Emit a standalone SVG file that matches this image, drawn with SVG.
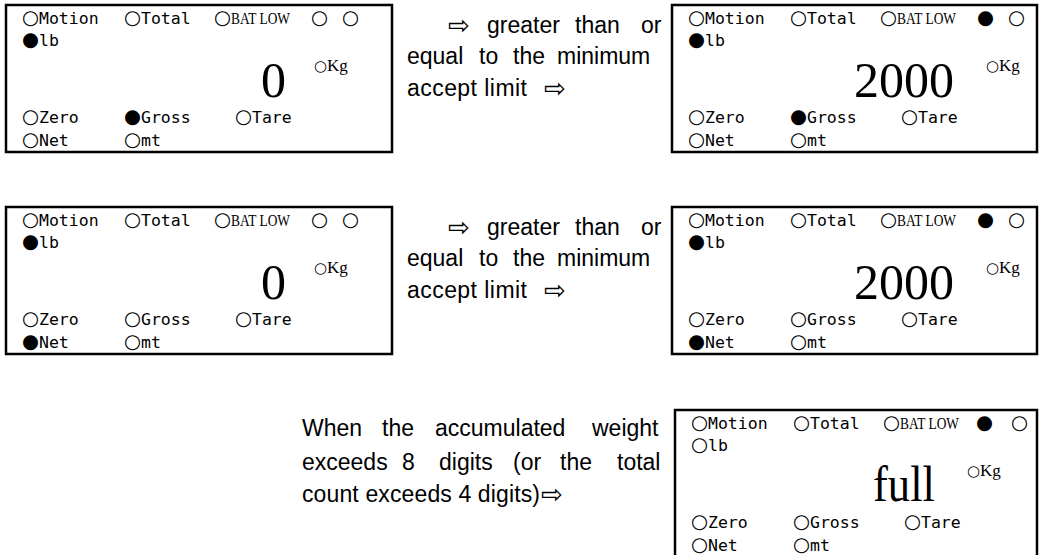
<svg xmlns="http://www.w3.org/2000/svg" width="1040" height="555" viewBox="0 0 1040 555">
<style>
.bg{fill:#fff}
.box{fill:#fff;stroke:#000;stroke-width:2.5}
.m{font-family:"DejaVu Sans Mono","Liberation Mono",monospace;font-size:16.5px;fill:#000}
.c{font-family:"DejaVu Sans",sans-serif;font-size:19.5px;fill:#000}
.ck{font-family:"DejaVu Sans",sans-serif;font-size:15px;fill:#000}
.s{font-family:"Liberation Serif",serif;font-size:17px;fill:#000}
.big{font-family:"Liberation Serif",serif;font-size:50px;fill:#000}
.t{font-family:"Liberation Sans",sans-serif;font-size:23px;fill:#000}
.a{font-family:"DejaVu Sans",sans-serif;font-size:26px;fill:#000}
</style>
<defs>
<g id="lbl">
<text class="c" y="19"><tspan x="16">○</tspan><tspan x="118">○</tspan><tspan x="208">○</tspan><tspan x="336">○</tspan></text>
<text class="m" y="19"><tspan x="33">Motion</tspan><tspan x="135">Total</tspan></text>
<text class="s" y="19" x="225" textLength="59" lengthAdjust="spacingAndGlyphs">BAT LOW</text>
<text class="m" y="41" x="33">lb</text>
<text class="m" y="118"><tspan x="33">Zero</tspan><tspan x="135">Gross</tspan><tspan x="246">Tare</tspan></text>
<text class="c" y="118" x="229">○</text>
<text class="m" y="141"><tspan x="33">Net</tspan><tspan x="135">mt</tspan></text>
<text class="c" y="141" x="118">○</text>
</g>
</defs>
<rect class="bg" x="0" y="0" width="1040" height="555"/>

<g id="display1" transform="translate(6,5)">
<rect class="box" x="0" y="0" width="386" height="147"/>
<use href="#lbl"/>
<text class="c" y="19" x="305">○</text>
<text class="c" y="41" x="16">●</text>
<text class="ck" y="66" x="308">○</text><text class="s" y="66" x="321">Kg</text>
<text class="big" y="92" x="280" text-anchor="end">0</text>
<text class="c" y="118" x="16">○</text><text class="c" y="118" x="118">●</text>
<text class="c" y="141" x="16">○</text>
</g>

<g id="display2" transform="translate(672,5)">
<rect class="box" x="0" y="0" width="365" height="147"/>
<use href="#lbl"/>
<text class="c" y="19" x="305">●</text>
<text class="c" y="41" x="16">●</text>
<text class="ck" y="66" x="314">○</text><text class="s" y="66" x="327">Kg</text>
<text class="big" y="92" x="282" text-anchor="end">2000</text>
<text class="c" y="118" x="16">○</text><text class="c" y="118" x="118">●</text>
<text class="c" y="141" x="16">○</text>
</g>

<g id="display3" transform="translate(6,207)">
<rect class="box" x="0" y="0" width="386" height="147"/>
<use href="#lbl"/>
<text class="c" y="19" x="305">○</text>
<text class="c" y="41" x="16">●</text>
<text class="ck" y="66" x="308">○</text><text class="s" y="66" x="321">Kg</text>
<text class="big" y="92" x="280" text-anchor="end">0</text>
<text class="c" y="118" x="16">○</text><text class="c" y="118" x="118">○</text>
<text class="c" y="141" x="16">●</text>
</g>

<g id="display4" transform="translate(672,207)">
<rect class="box" x="0" y="0" width="365" height="147"/>
<use href="#lbl"/>
<text class="c" y="19" x="305">●</text>
<text class="c" y="41" x="16">●</text>
<text class="ck" y="66" x="314">○</text><text class="s" y="66" x="327">Kg</text>
<text class="big" y="92" x="282" text-anchor="end">2000</text>
<text class="c" y="118" x="16">○</text><text class="c" y="118" x="118">○</text>
<text class="c" y="141" x="16">●</text>
</g>

<g id="display5" transform="translate(675,410)">
<rect class="box" x="0" y="0" width="362" height="152"/>
<use href="#lbl"/>
<text class="c" y="19" x="301">●</text>
<text class="c" y="41" x="16">○</text>
<text class="ck" y="66" x="292">○</text><text class="s" y="66" x="305">Kg</text>
<text class="big" y="91" x="198" textLength="62" lengthAdjust="spacingAndGlyphs">full</text>
<text class="c" y="118" x="16">○</text><text class="c" y="118" x="118">○</text>
<text class="c" y="141" x="16">○</text>
</g>

<g id="note1">
<text class="a" x="448" y="34">⇨</text>
<text class="t" y="33"><tspan x="487">greater</tspan><tspan x="575">than</tspan><tspan x="641">or</tspan></text>
<text class="t" y="64"><tspan x="407">equal</tspan><tspan x="479">to</tspan><tspan x="513">the</tspan><tspan x="557">minimum</tspan></text>
<text class="t" y="96" x="407" textLength="120">accept limit</text>
<text class="a" x="544" y="97">⇨</text>
</g>

<g id="note2">
<text class="a" x="448" y="236">⇨</text>
<text class="t" y="235"><tspan x="487">greater</tspan><tspan x="575">than</tspan><tspan x="641">or</tspan></text>
<text class="t" y="266"><tspan x="407">equal</tspan><tspan x="479">to</tspan><tspan x="513">the</tspan><tspan x="557">minimum</tspan></text>
<text class="t" y="298" x="407" textLength="120">accept limit</text>
<text class="a" x="544" y="299">⇨</text>
</g>

<g id="note3">
<text class="t" y="436"><tspan x="302">When</tspan><tspan x="382">the</tspan><tspan x="435">accumulated</tspan><tspan x="592">weight</tspan></text>
<text class="t" y="470"><tspan x="302">exceeds</tspan><tspan x="402">8</tspan><tspan x="439">digits</tspan><tspan x="513">(or</tspan><tspan x="560">the</tspan><tspan x="617">total</tspan></text>
<text class="t" y="502" x="302" textLength="238">count exceeds 4 digits)</text>
<text class="a" x="541" y="503">⇨</text>
</g>

<g id="connectors"></g>
</svg>
